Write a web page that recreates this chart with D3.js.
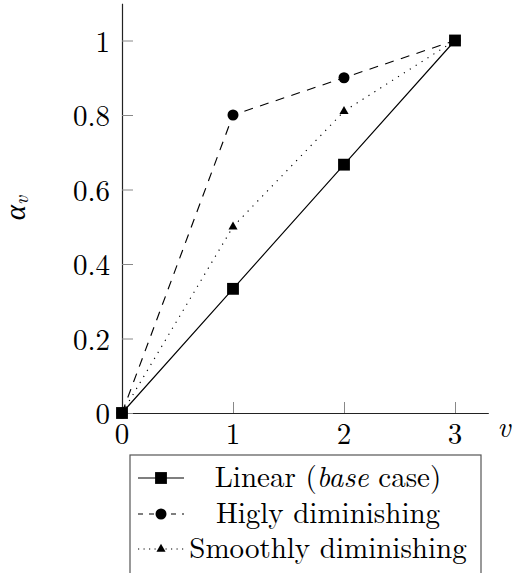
<!DOCTYPE html>
<html><head><meta charset="utf-8">
<script src="https://cdn.jsdelivr.net/npm/d3@7"></script>
<style>body{margin:0;background:#fff}svg{display:block}</style>
</head><body>
<script>
const xValues = [0, 1, 2, 3];
const linear = [0, 1/3, 2/3, 1];
const highly = [0, 0.8, 0.9, 1];
const smooth = [0, 0.5, 0.81, 1];
const xTicks = [0, 1, 2, 3];
const yTicks = [0, 0.2, 0.4, 0.6, 0.8, 1];
const seriesNames = ["Linear (base case)", "Higly diminishing", "Smoothly diminishing"];

const W = 515, H = 573;
const FONT = '"Latin Modern Roman", "CMU Serif", "Liberation Serif", serif';
const FS = "29px";
const svg = d3.select("body").append("svg").attr("width", W).attr("height", H);

const x = d3.scaleLinear().domain([0, 3.3]).range([122, 122 + 3.3 * 111]);
const y = d3.scaleLinear().domain([0, 1.1]).range([413, 413 - 1.1 * 372.5]);

// axes
const xAxis = d3.axisBottom(x).tickValues(xTicks).tickFormat(d3.format("d")).tickSize(0).tickPadding(0);
const gx = svg.append("g").attr("transform", `translate(0,${y(0)})`).call(xAxis);
gx.select(".domain").attr("stroke", "#222").attr("stroke-width", 1.2);
gx.selectAll(".tick text").remove();
gx.selectAll(".tick line").attr("y2", -11).attr("stroke", "#888").attr("stroke-width", 1);

const yAxis = d3.axisLeft(y).tickValues(yTicks).tickSize(0).tickPadding(0);
const gy = svg.append("g").attr("transform", `translate(${x(0)},0)`).call(yAxis);
gy.select(".domain").attr("stroke", "#222").attr("stroke-width", 1.2);
gy.selectAll(".tick text").remove();
gy.selectAll(".tick line").attr("x2", 11).attr("stroke", "#888").attr("stroke-width", 1);

function txt(sel) { return sel.style("font-family", FONT).style("font-size", FS).attr("fill", "#000"); }

// tick labels
txt(svg.append("g").selectAll("text").data(xTicks).join("text")
  .attr("x", d => x(d)).attr("y", 444)
  .attr("text-anchor", "middle"))
  .text(d => d3.format("d")(d));
txt(svg.append("g").selectAll("text").data(yTicks).join("text")
  .attr("x", 110).attr("y", d => y(d) + 11)
  .attr("text-anchor", "end"))
  .text(d => d === 0 || d === 1 ? String(d) : d3.format(".1f")(d));

// axis labels
txt(svg.append("text").attr("x", 504).attr("y", 437).attr("text-anchor", "middle"))
  .style("font-style", "italic").text("v");
const yl = txt(svg.append("text").attr("transform", "translate(25,208) rotate(-90)")
  .attr("text-anchor", "middle")).style("font-style", "italic");
yl.append("tspan").text("α");
yl.append("tspan").style("font-size", "20px").attr("dy", 3).text("v");

// series
const line = d3.line().x((d, i) => x(xValues[i])).y(d => y(d));
const series = [
  {data: linear, dash: null, marker: "square"},
  {data: highly, dash: "9,7.5", marker: "circle"},
  {data: smooth, dash: "1.2,5.8", marker: "triangle"}
];
const sym = {square: d3.symbolSquare, circle: d3.symbolCircle, triangle: d3.symbolTriangle};
const symSize = {square: 140, circle: 95, triangle: 36};

series.forEach(s => {
  svg.append("path").datum(s.data).attr("d", line).attr("fill", "none")
    .attr("stroke", "#000").attr("stroke-width", 1.15)
    .attr("stroke-dasharray", s.dash);
});
series.forEach(s => {
  svg.append("g").selectAll("path").data(s.data).join("path")
    .attr("transform", (d, i) => `translate(${x(xValues[i])},${y(d)})`)
    .attr("d", d3.symbol().type(sym[s.marker]).size(symSize[s.marker])())
    .attr("fill", "#000");
});

// legend
const lg = svg.append("g");
lg.append("rect").attr("x", 130).attr("y", 455).attr("width", 351).attr("height", 125)
  .attr("fill", "#fff").attr("stroke", "#555").attr("stroke-width", 1.2);
const rowsY = [478, 514, 549];
const baseY = [487, 523, 558];
series.forEach((s, i) => {
  lg.append("line").attr("x1", 138).attr("x2", 184).attr("y1", rowsY[i]).attr("y2", rowsY[i])
    .attr("stroke", "#000").attr("stroke-width", 1.15).attr("stroke-dasharray", s.dash ? (i === 1 ? "5,6" : "1.2,4.3") : null);
  lg.append("path").attr("transform", `translate(161,${rowsY[i]})`)
    .attr("d", d3.symbol().type(sym[s.marker]).size(symSize[s.marker])()).attr("fill", "#000");
});
const t0 = txt(lg.append("text").attr("x", 328).attr("y", baseY[0]).attr("text-anchor", "middle"));
t0.append("tspan").text("Linear (");
t0.append("tspan").style("font-style", "italic").text("base");
t0.append("tspan").text(" case)");
[1, 2].forEach(i => {
  txt(lg.append("text").attr("x", 328).attr("y", baseY[i]).attr("text-anchor", "middle"))
    .text(seriesNames[i]);
});
</script>
</body></html>
